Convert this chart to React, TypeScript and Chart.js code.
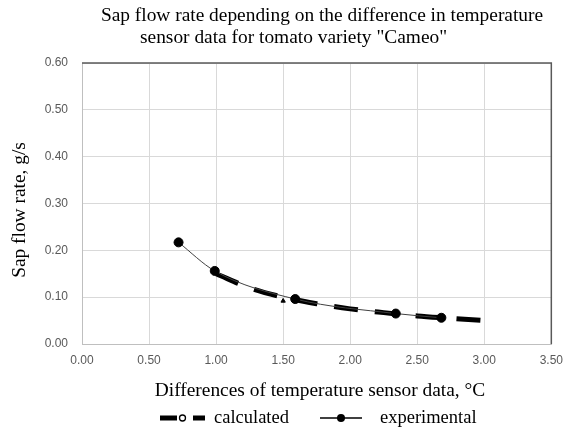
import React, { useEffect, useRef } from "react";
import { Chart, registerables } from "chart.js";

Chart.register(...registerables);

// ---- data ----
const expX = [0.72, 0.99, 1.59, 2.34, 2.68];
const expY = [0.217, 0.156, 0.096, 0.065, 0.056];
const calcX = [1.0, 1.25, 1.5, 1.75, 2.0, 2.25, 2.5, 2.75, 3.0];
const calcY = [0.15, 0.12, 0.1, 0.086, 0.075, 0.067, 0.06, 0.055, 0.05];
const markX = [1.5];
const markY = [0.092];
const xTicks = [0, 0.5, 1, 1.5, 2, 2.5, 3, 3.5];
const yTicks = [0, 0.1, 0.2, 0.3, 0.4, 0.5, 0.6];
const titleLines = [
  "Sap flow rate depending on the difference in temperature",
  "sensor data for tomato variety \"Cameo\"",
];
const xTitle = "Differences of temperature sensor data, \u00B0C";
const yTitle = "Sap flow rate, g/s";
const legendNames = ["calculated", "experimental"];

const SERIF = "'Liberation Serif', 'Times New Roman', serif";

const decorPlugin = {
  id: "decor",
  afterDraw(chart: any) {
    const ctx = chart.ctx as CanvasRenderingContext2D;
    const a = chart.chartArea;
    ctx.save();
    // dark top / right frame
    ctx.strokeStyle = "#595959";
    ctx.lineWidth = 1.5;
    ctx.beginPath();
    ctx.moveTo(a.left, a.top);
    ctx.lineTo(a.right, a.top);
    ctx.lineTo(a.right, a.bottom);
    ctx.stroke();

    ctx.fillStyle = "#000";
    ctx.font = `19.4px ${SERIF}`;
    ctx.textBaseline = "alphabetic";
    // title
    ctx.textAlign = "center";
    ctx.fillText(titleLines[0], 322, 21);
    ctx.textAlign = "left";
    ctx.fillText(titleLines[1], 140, 43);
    // x title
    ctx.textAlign = "center";
    ctx.fillText(xTitle, 320, 396);
    // y title
    ctx.save();
    ctx.translate(20, 210);
    ctx.rotate(-Math.PI / 2);
    ctx.textBaseline = "middle";
    ctx.fillText(yTitle, 0, 0);
    ctx.restore();

    // legend
    const ly = 418;
    ctx.strokeStyle = "#000";
    ctx.lineCap = "butt";
    ctx.lineWidth = 5;
    ctx.beginPath();
    ctx.moveTo(160, ly);
    ctx.lineTo(177, ly);
    ctx.moveTo(193, ly);
    ctx.lineTo(205, ly);
    ctx.stroke();
    ctx.lineWidth = 1.3;
    ctx.fillStyle = "#fff";
    ctx.beginPath();
    ctx.arc(182.5, ly, 3, 0, Math.PI * 2);
    ctx.fill();
    ctx.stroke();

    ctx.lineWidth = 1.5;
    ctx.beginPath();
    ctx.moveTo(320, ly);
    ctx.lineTo(362, ly);
    ctx.stroke();
    ctx.fillStyle = "#000";
    ctx.beginPath();
    ctx.arc(341, ly, 4, 0, Math.PI * 2);
    ctx.fill();

    ctx.font = `18.5px ${SERIF}`;
    ctx.textAlign = "left";
    ctx.textBaseline = "middle";
    ctx.fillText(legendNames[0], 214, ly);
    ctx.fillText(legendNames[1], 380, ly);
    ctx.restore();
  },
};

export default function App() {
  const ref = useRef<HTMLCanvasElement | null>(null);
  useEffect(() => {
    if (!ref.current) return;
    const chart = new Chart(ref.current, {
      type: "scatter",
      data: {
        datasets: [
          {
            label: legendNames[1],
            data: expX.map((x, i) => ({ x, y: expY[i] })),
            showLine: true,
            borderColor: "#404040",
            borderWidth: 1,
            tension: 0.4,
            cubicInterpolationMode: "monotone",
            pointRadius: 4.5,
            pointBackgroundColor: "#000",
            pointBorderColor: "#000",
            order: 0,
          },
          {
            label: legendNames[0],
            data: calcX.map((x, i) => ({ x, y: calcY[i] })),
            showLine: true,
            borderColor: "#000",
            borderWidth: 5,
            borderDash: [24, 17],
            borderCapStyle: "butt",
            tension: 0.4,
            cubicInterpolationMode: "monotone",
            pointRadius: 0,
            order: 1,
          },
          {
            label: "marker",
            data: markX.map((x, i) => ({ x, y: markY[i] })),
            showLine: false,
            pointStyle: "triangle",
            pointRadius: 2.5,
            pointBackgroundColor: "#000",
            pointBorderColor: "#000",
            order: 2,
          },
        ],
      } as any,
      options: {
        animation: false,
        responsive: false,
        devicePixelRatio: 1,
        layout: { padding: { left: 0, right: 13, top: 63, bottom: 0 } },
        plugins: {
          legend: { display: false },
          title: { display: false },
          tooltip: { enabled: false },
        },
        scales: {
          x: {
            type: "linear",
            min: 0,
            max: 3.5,
            afterFit: (s: any) => {
              s.height = 86;
            },
            afterBuildTicks: (s: any) => {
              s.ticks = xTicks.map((v) => ({ value: v }));
            },
            ticks: {
              padding: 9,
              color: "#595959",
              font: { family: "'Liberation Sans', Arial, sans-serif", size: 12 },
              callback: (v: any) => Number(v).toFixed(2),
              maxRotation: 0,
            },
            grid: { color: "#d9d9d9", lineWidth: 1, drawTicks: false },
            border: { color: "#bfbfbf", width: 1 },
          },
          y: {
            type: "linear",
            min: 0,
            max: 0.6,
            afterFit: (s: any) => {
              s.width = 82;
            },
            afterBuildTicks: (s: any) => {
              s.ticks = yTicks.map((v) => ({ value: v }));
            },
            ticks: {
              padding: 14,
              color: "#595959",
              font: { family: "'Liberation Sans', Arial, sans-serif", size: 12 },
              callback: (v: any) => Number(v).toFixed(2),
            },
            grid: { color: "#d9d9d9", lineWidth: 1, drawTicks: false },
            border: { color: "#bfbfbf", width: 1 },
          },
        },
      } as any,
      plugins: [decorPlugin],
    });
    return () => chart.destroy();
  }, []);
  return (
    <div style={{ position: "fixed", left: 0, top: 0, width: 572, height: 430, background: "#fff" }}>
      <canvas ref={ref} width={572} height={430} />
    </div>
  );
}
